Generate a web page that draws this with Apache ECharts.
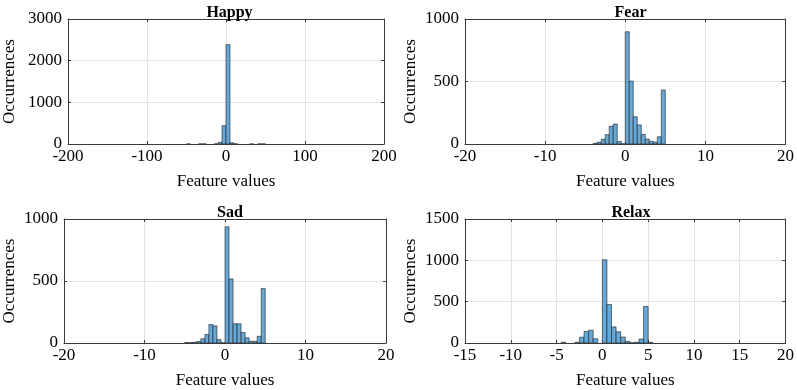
<!DOCTYPE html>
<html>
<head>
<meta charset="utf-8">
<script src="https://cdn.jsdelivr.net/npm/echarts@6/dist/echarts.min.js"></script>
<style>
  html, body { margin: 0; padding: 0; background: #fff; }
  #chart { width: 797px; height: 390px; }
</style>
</head>
<body>
<div id="chart"></div>
<script>
// histogram bins: [left edge, count], one width per panel
const happyWidth = 5;
const happyBins = [
  [-50, 1], [-35, 1], [-30, 2], [-15, 2], [-10, 40], [-5, 440], [0, 2385],
  [5, 30], [10, 2], [30, 1], [40, 1], [45, 2]
];
const fearWidth = 0.5;
const fearBins = [
  [-4, 5], [-3.5, 15], [-3, 38], [-2.5, 75], [-2, 142], [-1.5, 160], [-1, 20], [-0.5, 2],
  [0, 898], [0.5, 503], [1, 218], [1.5, 153], [2, 77], [2.5, 40], [3, 22], [3.5, 15],
  [4, 58], [4.5, 432]
];
const sadWidth = 0.5;
const sadBins = [
  [-5, 4], [-4.5, 3], [-4, 6], [-3.5, 12], [-3, 34], [-2.5, 69], [-2, 149], [-1.5, 138],
  [-1, 27], [-0.5, 2], [0, 937], [0.5, 517], [1, 155], [1.5, 155], [2, 85], [2.5, 42],
  [3, 14], [3.5, 14], [4, 54], [4.5, 439]
];
const relaxWidth = 0.5;
const relaxBins = [
  [-4.5, 8], [-3, 8], [-2.5, 70], [-2, 139], [-1.5, 155], [-1, 52], [0, 1007], [0.5, 466],
  [1, 195], [1.5, 135], [2, 72], [2.5, 20], [3, 2], [3.5, 8], [4, 48], [4.5, 442], [5, 8]
];

const titles = ['Happy', 'Fear', 'Sad', 'Relax'];
const xRanges = [[-200, 200, 100], [-20, 20, 10], [-20, 20, 10], [-15, 20, 5]];
const yRanges = [[0, 3000, 1000], [0, 1000, 500], [0, 1000, 500], [0, 1500, 500]];

const panels = [
  {bins: happyBins, width: happyWidth},
  {bins: fearBins, width: fearWidth},
  {bins: sadBins, width: sadWidth},
  {bins: relaxBins, width: relaxWidth}
];

const grids = [
  {left: 65, top: 19, width: 319, height: 125},
  {left: 465, top: 19, width: 321, height: 125},
  {left: 64, top: 219, width: 322, height: 125},
  {left: 465, top: 219, width: 322, height: 125}
];
const yNameGaps = [50, 46, 46, 46];

const font = '"Liberation Serif", "Times New Roman", serif';
const axisColor = '#3a3a3a';
const gridColor = '#e3e3e3';

function renderBar(params, api) {
  const p0 = api.coord([api.value(0), api.value(2)]);
  const p1 = api.coord([api.value(1), 0]);
  return {
    type: 'rect',
    shape: {x: p0[0], y: p0[1], width: p1[0] - p0[0], height: p1[1] - p0[1]},
    style: {fill: '#64a9d9', stroke: '#1c1c1c', lineWidth: 0.6}
  };
}

const plain = v => String(v);

const xAxis = [];
const yAxis = [];
const series = [];
const title = [];

grids.forEach((g, i) => {
  const [xmin, xmax, xint] = xRanges[i];
  const [ymin, ymax, yint] = yRanges[i];
  title.push({
    text: titles[i],
    left: g.left + g.width / 2,
    top: g.top - 19,
    textAlign: 'center',
    textStyle: {fontFamily: font, fontSize: 16, fontWeight: 'bold', color: '#000'}
  });
  xAxis.push({
    type: 'value', gridIndex: i, min: xmin, max: xmax, interval: xint,
    name: 'Feature values', nameLocation: 'middle', nameGap: 29,
    nameTextStyle: {fontFamily: font, fontSize: 17, color: '#000'},
    axisLine: {show: true, onZero: false, lineStyle: {color: axisColor, width: 1}},
    axisTick: {show: true, inside: true, length: 3, lineStyle: {color: axisColor}},
    axisLabel: {fontFamily: font, fontSize: 17, color: '#000', margin: 4, formatter: plain},
    splitLine: {show: true, lineStyle: {color: gridColor, width: 1}}
  });
  xAxis.push({
    type: 'value', gridIndex: i, min: xmin, max: xmax, interval: xint, position: 'top',
    axisLine: {show: true, onZero: false, lineStyle: {color: axisColor, width: 1}},
    axisTick: {show: true, inside: true, length: 3, lineStyle: {color: axisColor}},
    axisLabel: {show: false}, splitLine: {show: false}
  });
  yAxis.push({
    type: 'value', gridIndex: i, min: ymin, max: ymax, interval: yint,
    name: 'Occurrences', nameLocation: 'middle', nameGap: yNameGaps[i],
    nameTextStyle: {fontFamily: font, fontSize: 17, color: '#000'},
    axisLine: {show: true, onZero: false, lineStyle: {color: axisColor, width: 1}},
    axisTick: {show: true, inside: true, length: 3, lineStyle: {color: axisColor}},
    axisLabel: {fontFamily: font, fontSize: 17, color: '#000', margin: 6, formatter: plain},
    splitLine: {show: true, lineStyle: {color: gridColor, width: 1}}
  });
  yAxis.push({
    type: 'value', gridIndex: i, min: ymin, max: ymax, interval: yint, position: 'right',
    axisLine: {show: true, onZero: false, lineStyle: {color: axisColor, width: 1}},
    axisTick: {show: true, inside: true, length: 3, lineStyle: {color: axisColor}},
    axisLabel: {show: false}, splitLine: {show: false}
  });
  const p = panels[i];
  series.push({
    type: 'custom',
    xAxisIndex: i * 2,
    yAxisIndex: i * 2,
    renderItem: renderBar,
    data: p.bins.map(b => [b[0], b[0] + p.width, b[1]]),
    clip: true,
    z: 3
  });
});

const chart = echarts.init(document.getElementById('chart'), null, {renderer: 'canvas'});
chart.setOption({
  backgroundColor: '#ffffff',
  animation: false,
  title: title,
  grid: grids,
  xAxis: xAxis,
  yAxis: yAxis,
  series: series
});
</script>
</body>
</html>
